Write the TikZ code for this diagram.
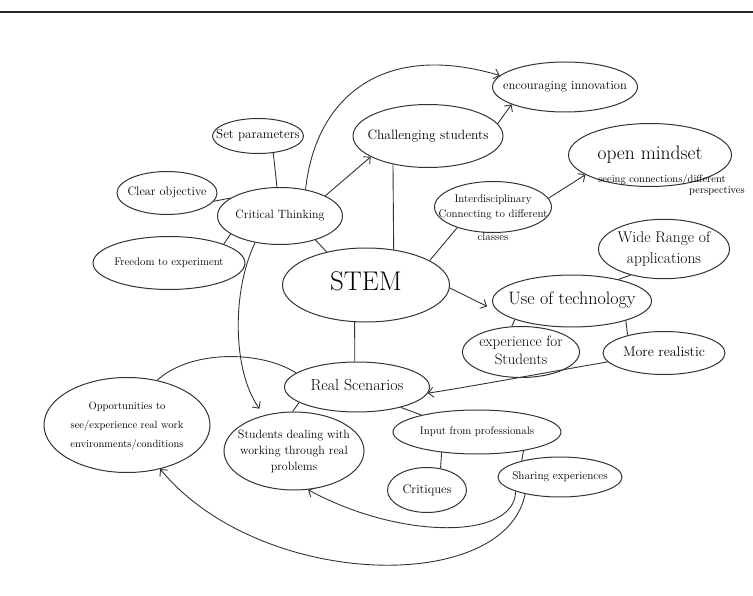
\documentclass[tikz,border=0pt]{standalone}
\usepackage{tikz}
\usetikzlibrary{shapes.geometric, arrows.meta}
\newcommand{\inbox}[1]{\makebox[0pt]{\begin{tabular}{@{}c@{}}#1\end{tabular}}}
\newcommand{\hand}[2]{\fontsize{#1}{#2}\selectfont}

\begin{document}
\begin{tikzpicture}[x=1pt, y=-1pt,
  bubble/.style={ellipse, draw=black!80, line width=1pt, inner sep=0pt},
  link/.style={draw=black!80, line width=0.9pt},
  rel/.style={link, -{Straight Barb[length=5pt, width=10pt]}},
  note/.style={inner sep=0pt}
]
\useasboundingbox (0,0) rectangle (753,596);
\draw[line width=1.6pt, black!85] (0,12) -- (753,12);

\node[bubble, minimum width=91pt, minimum height=35pt, font=\hand{13}{15}] (setp) at (258,136) {\inbox{Set parameters}};
\node[bubble, minimum width=100pt, minimum height=43pt, font=\hand{12.3}{15}] (clear) at (167,193) {\inbox{Clear objective}};
\node[bubble, minimum width=125pt, minimum height=57pt, font=\hand{12}{14}] (crit) at (280,216) {\inbox{Critical Thinking}};
\node[bubble, minimum width=152pt, minimum height=53pt, font=\hand{11}{13}] (free) at (169,263) {\inbox{Freedom to experiment}};
\node[bubble, minimum width=167pt, minimum height=74pt, font=\hand{27}{30}] (stem) at (366,285) {\inbox{STEM}};
\node[bubble, minimum width=150pt, minimum height=63pt, font=\hand{13.5}{16}] (chal) at (428,136) {\inbox{Challenging students}};
\node[bubble, minimum width=145pt, minimum height=50pt, font=\hand{12.5}{15}] (innov) at (565,87) {\inbox{encouraging innovation}};
\node[bubble, minimum width=163pt, minimum height=63pt, font=\hand{19.5}{21}] (open) at (650,155) {\inbox{open mindset}};
\node[note, font=\hand{10.5}{12}] (seeing) at (662,180) {seeing connections/different};
\node[note, font=\hand{10.5}{12}] (persp) at (717,191) {perspectives};
\node[bubble, minimum width=117pt, minimum height=51pt, font=\hand{11}{15},
  label={[note, font=\hand{11}{13}]below:classes}] (inter) at (493,207) {\inbox{Interdisciplinary\\Connecting to different}};
\node[bubble, minimum width=131pt, minimum height=55pt, font=\hand{15.5}{21}] (wide) at (664,249) {\inbox{Wide Range of\\applications}};
\node[bubble, minimum width=159pt, minimum height=52pt, font=\hand{18}{20}] (tech) at (572,301) {\inbox{Use of technology}};
\node[bubble, minimum width=117pt, minimum height=51pt, font=\hand{15}{18}] (exper) at (521,352) {\inbox{experience for\\Students}};
\node[bubble, minimum width=122pt, minimum height=43pt, font=\hand{14}{16}] (realistic) at (664,353) {\inbox{More realistic}};
\node[bubble, minimum width=145pt, minimum height=50pt, font=\hand{16}{18}] (scen) at (357,387) {\inbox{Real Scenarios}};
\node[bubble, minimum width=166pt, minimum height=95pt, font=\hand{10.5}{19}] (opp) at (127,425) {\inbox{Opportunities to\\see/experience real work\\environments/conditions}};
\node[bubble, minimum width=140pt, minimum height=78pt, font=\hand{12}{16}] (deal) at (294,451) {\inbox{Students dealing with\\working through real\\problems}};
\node[bubble, minimum width=168pt, minimum height=44pt, font=\hand{11}{13}] (input) at (477,432) {\inbox{Input from professionals}};
\node[bubble, minimum width=79pt, minimum height=45pt, font=\hand{12.5}{15}] (critq) at (427,490) {\inbox{Critiques}};
\node[bubble, minimum width=124pt, minimum height=40pt, font=\hand{11.3}{14}] (share) at (560,477) {\inbox{Sharing experiences}};

\draw[link] (setp.312) -- (crit.96);
\draw[link] (clear.350) -- (crit.160);
\draw[link] (free.19) -- (crit.200);
\draw[link] (crit.326) -- (stem.140);
\draw[rel] (crit.24) -- (chal.200);
\draw[rel] (crit.46) .. controls (315,100) and (380,40) .. (innov.170);
\draw[rel] (chal.10) -- (innov.198);
\draw[link] (chal.219) -- (stem.52);
\draw[link] (stem.21) -- (inter.210);
\draw[rel] (inter.9) -- (open.197);
\draw[rel, shorten >=16pt] (stem.358) -- (tech.190);
\draw[link] (tech.25) -- (wide.218);
\draw[link] (tech.198) -- (exper.110);
\draw[link] (tech.340) -- (realistic.154);
\draw[rel] (realistic.189) .. controls (560,370) and (480,385) .. (scen.355);
\draw[link] (stem.253) -- (scen.95);
\draw[rel, shorten >=8pt] (crit.227) .. controls (232,290) and (232,370) .. (deal.130);
\draw[link] (opp.56) .. controls (190,350) and (260,350) .. (scen.167);
\draw[link] (scen.195) -- (deal.92);
\draw[link] (scen.335) -- (input.163);
\draw[link] (input.210) -- (critq.58);
\draw[link] (input.338) -- (share.157);
\draw[rel] (share.198) .. controls (515,540) and (400,540) .. (deal.290);
\draw[rel] (share.206) .. controls (505,595) and (260,590) .. (opp.307);
\end{tikzpicture}
\end{document}
